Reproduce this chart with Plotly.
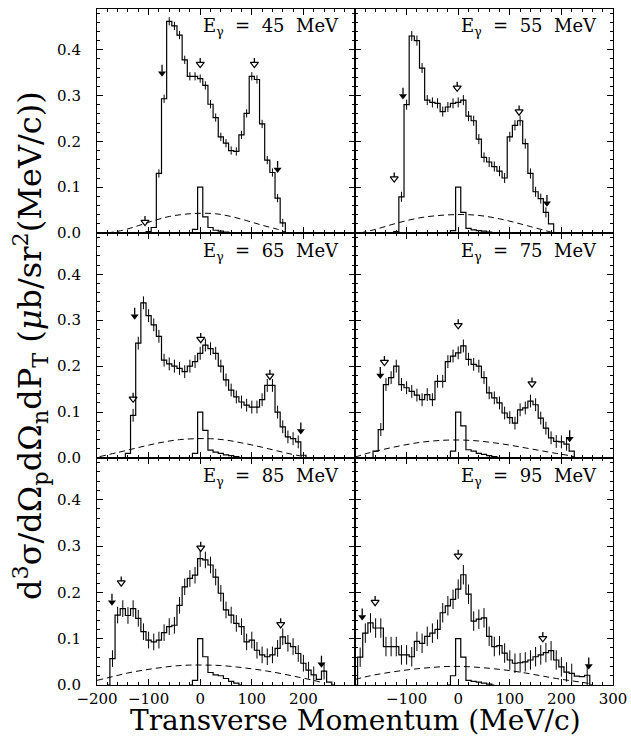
import numpy as np
import plotly.graph_objects as go

# ---------------- data ----------------
ENERGIES = ["45", "55", "65", "75", "85", "95"]
BIN_WIDTH = 10

# main histograms: centre of first bin and bin contents (bins every 10 MeV/c)
START_45 = -100
DATA_45 = [0.003, 0.012, 0.13, 0.293, 0.462, 0.452, 0.432, 0.378, 0.342, 0.342,
           0.337, 0.322, 0.281, 0.252, 0.21, 0.196, 0.18, 0.178, 0.214, 0.261,
           0.342, 0.335, 0.238, 0.159, 0.132, 0.076, 0.022]
START_55 = -120
DATA_55 = [0.003, 0.079, 0.28, 0.43, 0.42, 0.36, 0.29, 0.285, 0.283, 0.265,
           0.275, 0.283, 0.285, 0.29, 0.255, 0.245, 0.205, 0.165, 0.155, 0.145,
           0.135, 0.12, 0.21, 0.235, 0.245, 0.195, 0.13, 0.09, 0.075, 0.045, 0.02]
START_65 = -140
DATA_65 = [0.01, 0.093, 0.25, 0.338, 0.31, 0.29, 0.265, 0.213, 0.205, 0.2,
           0.195, 0.188, 0.2, 0.21, 0.228, 0.246, 0.238, 0.228, 0.2, 0.17,
           0.148, 0.133, 0.122, 0.115, 0.111, 0.111, 0.127, 0.158, 0.158, 0.1,
           0.068, 0.046, 0.042, 0.035, 0.006]
START_75 = -160
DATA_75 = [0.015, 0.062, 0.16, 0.175, 0.2, 0.16, 0.153, 0.145, 0.137, 0.127,
           0.138, 0.127, 0.167, 0.167, 0.21, 0.222, 0.229, 0.244, 0.215, 0.204,
           0.2, 0.175, 0.142, 0.131, 0.12, 0.098, 0.088, 0.076, 0.105, 0.109,
           0.124, 0.116, 0.087, 0.065, 0.044, 0.036, 0.035, 0.03, 0.015]
START_85 = -170
DATA_85 = [0.057, 0.151, 0.165, 0.15, 0.165, 0.144, 0.115, 0.097, 0.093, 0.097,
           0.113, 0.126, 0.129, 0.172, 0.212, 0.23, 0.237, 0.273, 0.27, 0.259,
           0.233, 0.198, 0.162, 0.151, 0.133, 0.126, 0.093, 0.097, 0.075, 0.065,
           0.061, 0.065, 0.079, 0.104, 0.09, 0.083, 0.068, 0.047, 0.032, 0.022,
           0.012, 0.03, 0.006]
START_95 = -190
DATA_95 = [0.06, 0.112, 0.134, 0.123, 0.123, 0.083, 0.083, 0.083, 0.065, 0.065,
           0.061, 0.094, 0.09, 0.105, 0.112, 0.12, 0.156, 0.171, 0.185, 0.207,
           0.238, 0.196, 0.138, 0.142, 0.145, 0.105, 0.083, 0.085, 0.069, 0.054,
           0.047, 0.048, 0.05, 0.054, 0.061, 0.065, 0.07, 0.074, 0.054, 0.039,
           0.028, 0.025, 0.019, 0.018, 0.021]
ERRORS = [0.009, 0.011, 0.014, 0.014, 0.018, 0.021]

# narrow peak histograms (first bin centre -10)
PEAK_START = -10
PEAK_45 = [0.008, 0.1, 0.035, 0.012, 0.006, 0.004, 0.002, 0.001]
PEAK_55 = [0.005, 0.1, 0.045, 0.01, 0.007, 0.005, 0.004, 0.002, 0.001]
PEAK_65 = [0.01, 0.1, 0.06, 0.017, 0.013, 0.01, 0.007, 0.005, 0.003]
PEAK_75 = [0.015, 0.1, 0.07, 0.018, 0.015, 0.01, 0.008, 0.005, 0.003]
PEAK_85 = [0.01, 0.1, 0.061, 0.027, 0.022, 0.02, 0.014, 0.008, 0.004]
PEAK_95 = [0.02, 0.1, 0.06, 0.01, 0.008, 0.006, 0.004, 0.002]

# dashed curves
DASH_X_45 = [-180, -150, -120, -90, -60, -30, 0, 30, 60, 90, 120, 150, 170]
DASH_Y_45 = [0.0, 0.006, 0.016, 0.027, 0.036, 0.041, 0.043, 0.042, 0.036, 0.027, 0.017, 0.008, 0.0]
DASH_X_55 = [-190, -160, -130, -100, -70, -40, -10, 20, 50, 80, 110, 140, 170, 185]
DASH_Y_55 = [0.0, 0.008, 0.018, 0.027, 0.034, 0.038, 0.04, 0.04, 0.037, 0.031, 0.023, 0.014, 0.005, 0.0]
DASH_X_65 = [-195, -160, -130, -100, -70, -40, -10, 20, 50, 80, 110, 140, 170, 200, 210]
DASH_Y_65 = [0.003, 0.012, 0.02, 0.028, 0.035, 0.04, 0.042, 0.042, 0.039, 0.033, 0.026, 0.018, 0.01, 0.003, 0.0]
DASH_X_75 = [-200, -170, -140, -110, -80, -50, -20, 10, 40, 70, 100, 130, 160, 190, 220, 230]
DASH_Y_75 = [0.002, 0.012, 0.02, 0.027, 0.033, 0.037, 0.039, 0.039, 0.037, 0.033, 0.028, 0.022, 0.016, 0.01, 0.004, 0.0]
DASH_X_85 = [-200, -170, -140, -110, -80, -50, -20, 10, 40, 70, 100, 130, 160, 190, 220, 240]
DASH_Y_85 = [0.01, 0.018, 0.026, 0.032, 0.037, 0.041, 0.043, 0.043, 0.042, 0.039, 0.035, 0.03, 0.024, 0.017, 0.01, 0.004]
DASH_X_95 = [-200, -170, -140, -110, -80, -50, -20, 10, 40, 70, 100, 130, 160, 190, 220, 250, 260]
DASH_Y_95 = [0.012, 0.02, 0.026, 0.031, 0.035, 0.038, 0.04, 0.04, 0.038, 0.035, 0.031, 0.026, 0.02, 0.014, 0.009, 0.004, 0.002]

# arrows: x, tip height, filled (True) / open (False)
ARROW_X_45 = [-107, -74, 0, 105, 150]
ARROW_Y_45 = [0.015, 0.34, 0.36, 0.36, 0.13]
ARROW_F_45 = [False, True, False, False, True]
ARROW_X_55 = [-124, -107, -2, 118, 172]
ARROW_Y_55 = [0.11, 0.29, 0.308, 0.256, 0.056]
ARROW_F_55 = [False, True, False, False, True]
ARROW_X_65 = [-130, -127, 1, 135, 195]
ARROW_Y_65 = [0.12, 0.30, 0.25, 0.17, 0.05]
ARROW_F_65 = [False, True, False, False, True]
ARROW_X_75 = [-151, -143, 0, 143, 216]
ARROW_Y_75 = [0.171, 0.2, 0.28, 0.153, 0.033]
ARROW_F_75 = [True, False, False, False, True]
ARROW_X_85 = [-171, -153, 1, 156, 235]
ARROW_Y_85 = [0.17, 0.212, 0.287, 0.122, 0.036]
ARROW_F_85 = [True, False, False, False, True]
ARROW_X_95 = [-186, -161, 0, 164, 253]
ARROW_Y_95 = [0.138, 0.17, 0.27, 0.092, 0.032]
ARROW_F_95 = [True, False, False, False, True]

X_TICKVALS = [-200, -100, 0, 100, 200, 300]
X_TICKTEXT_LEFT = ["\u2212200", "\u2212100", "0", "100", "200", ""]
X_TICKTEXT_RIGHT = ["", "\u2212100", "0", "100", "200", "300"]
Y_TICKVALS = [0.0, 0.1, 0.2, 0.3, 0.4]
Y_TICKTEXT = ["0.0", "0.1", "0.2", "0.3", "0.4"]

X_TITLE = "Transverse Momentum (MeV/c)"
Y_TITLE = ("d<sup>3</sup>\u03c3/d\u03a9<sub>p</sub>d\u03a9<sub>n</sub>dP<sub>T</sub>"
           " (<i>\u03bc</i>b/sr<sup>2</sup>(MeV/c))")

PANELS = [
    (START_45, DATA_45, PEAK_45, DASH_X_45, DASH_Y_45, ARROW_X_45, ARROW_Y_45, ARROW_F_45),
    (START_55, DATA_55, PEAK_55, DASH_X_55, DASH_Y_55, ARROW_X_55, ARROW_Y_55, ARROW_F_55),
    (START_65, DATA_65, PEAK_65, DASH_X_65, DASH_Y_65, ARROW_X_65, ARROW_Y_65, ARROW_F_65),
    (START_75, DATA_75, PEAK_75, DASH_X_75, DASH_Y_75, ARROW_X_75, ARROW_Y_75, ARROW_F_75),
    (START_85, DATA_85, PEAK_85, DASH_X_85, DASH_Y_85, ARROW_X_85, ARROW_Y_85, ARROW_F_85),
    (START_95, DATA_95, PEAK_95, DASH_X_95, DASH_Y_95, ARROW_X_95, ARROW_Y_95, ARROW_F_95),
]

# ---------------- layout geometry ----------------
W, H = 631, 736
COL_PX = [(97, 355), (355, 613)]
ROW_PX = [(8.5, 233), (233, 458), (458, 685)]
X_RANGE = [-200, 300]
Y_RANGE = [0, 0.49]
FONT = "DejaVu Serif"
BLACK = "black"

fig = go.Figure()


def step_xy(start, vals):
    centres = start + BIN_WIDTH * np.arange(len(vals))
    xs = np.concatenate([[centres[0] - BIN_WIDTH], centres, [centres[-1] + BIN_WIDTH]])
    ys = np.concatenate([[0.0], vals, [0.0]])
    return centres, xs, ys


px_to_data = (Y_RANGE[1] - Y_RANGE[0]) / 225
head_size = 7
head_off = 0.577 * head_size * px_to_data
head_top = head_off + head_size / 2 / 1.732 * px_to_data

for i, (start, vals, peak, dx, dy, ax_, ay_, af_) in enumerate(PANELS):
    row, col = i // 2, i % 2
    sfx = "" if i == 0 else str(i + 1)
    xa, ya = "x" + sfx, "y" + sfx

    centres, xs, ys = step_xy(start, vals)
    fig.add_trace(go.Scatter(x=xs, y=ys, mode="lines", line=dict(color=BLACK, width=1.2, shape="hvh"),
                             xaxis=xa, yaxis=ya, showlegend=False, hoverinfo="skip"))
    vals_arr = np.array(vals)
    mask = vals_arr > 0.02
    fig.add_trace(go.Scatter(x=centres[mask], y=vals_arr[mask], mode="markers",
                             marker=dict(size=1, color=BLACK),
                             error_y=dict(type="constant", value=ERRORS[i], color=BLACK, thickness=1, width=0),
                             xaxis=xa, yaxis=ya, showlegend=False, hoverinfo="skip"))
    _, pxs, pys = step_xy(PEAK_START, peak)
    fig.add_trace(go.Scatter(x=pxs, y=pys, mode="lines", line=dict(color=BLACK, width=1.2, shape="hvh"),
                             xaxis=xa, yaxis=ya, showlegend=False, hoverinfo="skip"))
    fig.add_trace(go.Scatter(x=dx, y=dy, mode="lines",
                             line=dict(color=BLACK, width=1, dash="6px,4px", shape="spline"),
                             xaxis=xa, yaxis=ya, showlegend=False, hoverinfo="skip"))
    # arrows
    stem_x, stem_y = [], []
    for x0, y0, f in zip(ax_, ay_, af_):
        length = 0.014 if f else 0.009
        stem_x += [x0, x0, None]
        stem_y += [y0 + head_top - 0.001, y0 + head_top + length, None]
    fig.add_trace(go.Scatter(x=stem_x, y=stem_y, mode="lines", line=dict(color=BLACK, width=1.3),
                             xaxis=xa, yaxis=ya, showlegend=False, hoverinfo="skip"))
    fx = [x for x, f in zip(ax_, af_) if f]
    fy = [y + head_off for y, f in zip(ay_, af_) if f]
    ox = [x for x, f in zip(ax_, af_) if not f]
    oy = [y + head_off for y, f in zip(ay_, af_) if not f]
    fig.add_trace(go.Scatter(x=fx, y=fy, mode="markers",
                             marker=dict(symbol="triangle-down", size=head_size, color=BLACK, line=dict(width=0)),
                             xaxis=xa, yaxis=ya, showlegend=False, hoverinfo="skip"))
    fig.add_trace(go.Scatter(x=ox, y=oy, mode="markers",
                             marker=dict(symbol="triangle-down-open", size=head_size, color=BLACK,
                                         line=dict(width=1.2, color=BLACK)),
                             xaxis=xa, yaxis=ya, showlegend=False, hoverinfo="skip"))

    x0p, x1p = COL_PX[col]
    y0p, y1p = ROW_PX[row]
    xdom = [x0p / W, x1p / W]
    ydom = [1 - y1p / H, 1 - y0p / H]
    bottom = row == 2
    left = col == 0
    xaxis = dict(domain=xdom, range=X_RANGE, anchor=ya, showgrid=False, zeroline=False,
                 showline=True, linecolor=BLACK, linewidth=1.1, mirror="allticks",
                 ticks="inside", ticklen=6, tickwidth=1.1, tickcolor=BLACK,
                 tickmode="array", tickvals=X_TICKVALS,
                 ticktext=(X_TICKTEXT_LEFT if left else X_TICKTEXT_RIGHT),
                 showticklabels=bottom, automargin=False,
                 tickfont=dict(family=FONT, size=15, color=BLACK),
                 minor=dict(dtick=20, tick0=0, ticks="inside", ticklen=3, tickwidth=1, tickcolor=BLACK))
    yaxis = dict(domain=ydom, range=Y_RANGE, anchor=xa, showgrid=False, zeroline=False,
                 showline=True, linecolor=BLACK, linewidth=1.1, mirror="allticks",
                 ticks="inside", ticklen=6, tickwidth=1.1, tickcolor=BLACK,
                 tickmode="array", tickvals=Y_TICKVALS, ticktext=Y_TICKTEXT,
                 showticklabels=left, ticklabelstandoff=12, automargin=False,
                 tickfont=dict(family=FONT, size=15, color=BLACK),
                 minor=dict(dtick=0.02, tick0=0, ticks="inside", ticklen=3, tickwidth=1, tickcolor=BLACK))
    fig.layout["xaxis" + sfx] = xaxis
    fig.layout["yaxis" + sfx] = yaxis

    fig.add_annotation(xref=xa + " domain", yref=ya + " domain", x=1 - 14 / 258, y=1 - 19 / 225,
                       xanchor="right", yanchor="middle", showarrow=False,
                       text="E<sub>\u03b3</sub>\u00a0\u00a0=\u00a0\u00a0" + ENERGIES[i] + "\u00a0\u00a0MeV",
                       font=dict(family=FONT, size=18, color=BLACK))

fig.add_annotation(xref="paper", yref="paper", x=356 / W, y=1 - 720 / H,
                   xanchor="center", yanchor="middle",
                   showarrow=False, text=X_TITLE, font=dict(family=FONT, size=28, color=BLACK))
fig.add_annotation(xref="paper", yref="paper", x=30 / W, y=1 - 346 / H,
                   xanchor="center", yanchor="middle",
                   showarrow=False, textangle=-90, text=Y_TITLE, font=dict(family=FONT, size=32, color=BLACK))

fig.update_layout(width=W, height=H, margin=dict(l=0, r=0, t=0, b=0),
                  paper_bgcolor="white", plot_bgcolor="white")

# remove the browser's default 8 px page margin so the figure fills the window
fig.write_html("out.html", config={"displayModeBar": False},
               post_script="document.body.style.margin='0';document.body.style.overflow='hidden';")
